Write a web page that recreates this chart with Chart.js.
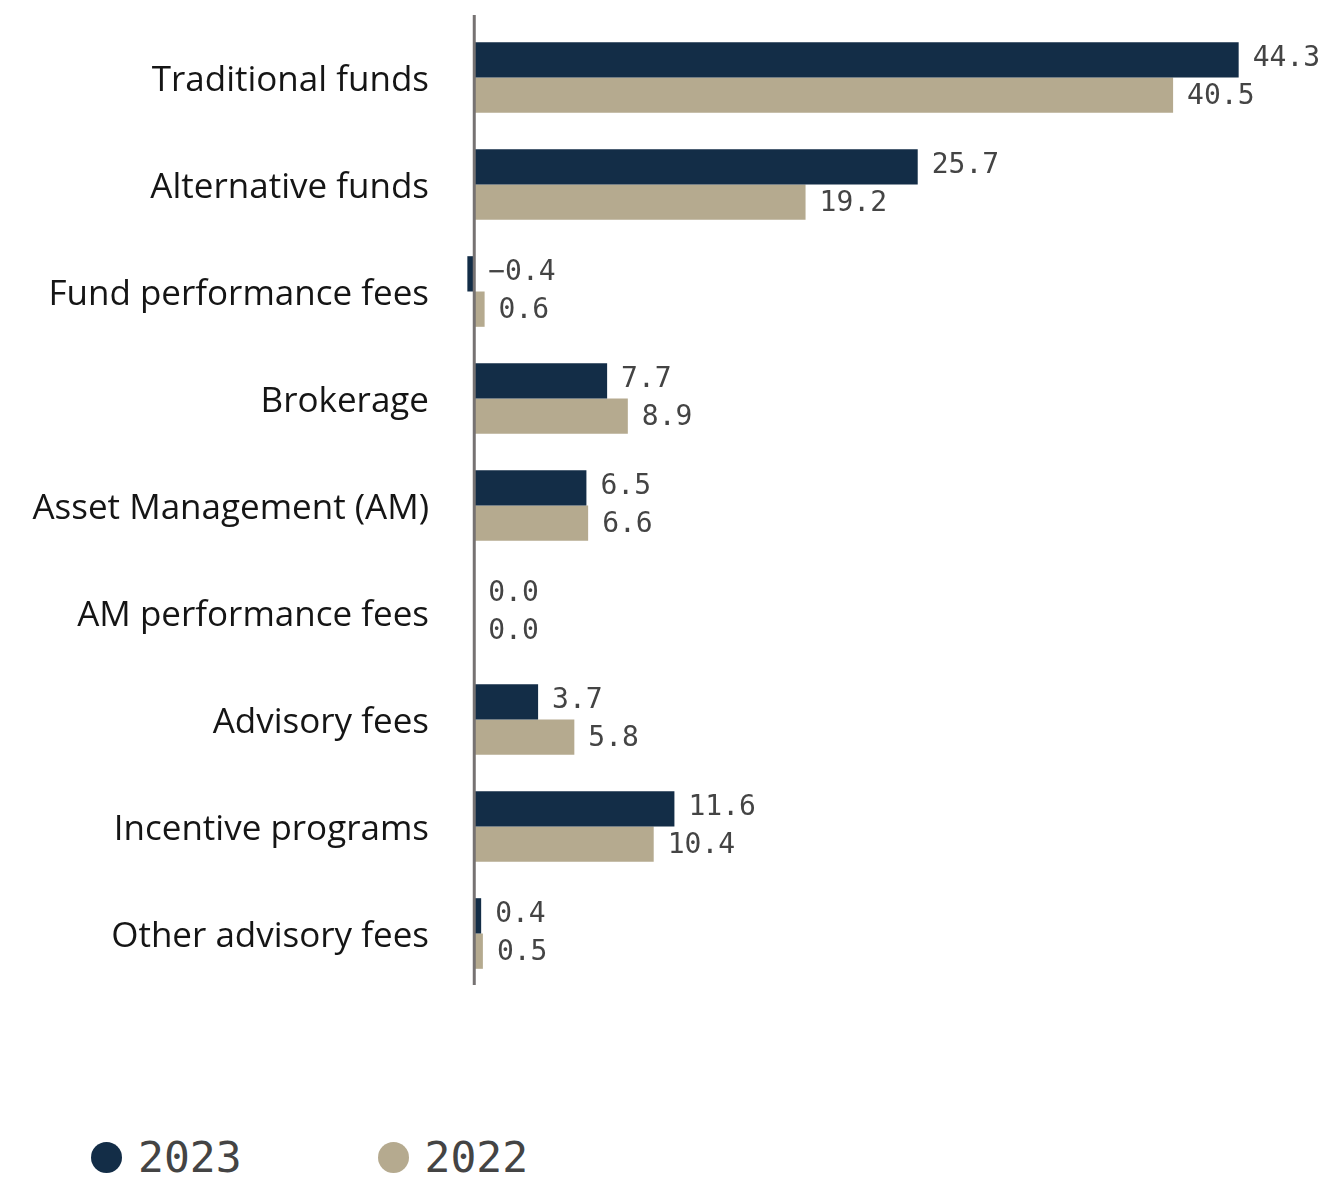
<!DOCTYPE html>
<html>
<head>
<meta charset="utf-8">
<script src="https://cdn.jsdelivr.net/npm/chart.js@4.4.1/dist/chart.umd.min.js"></script>
<style>
  body { margin: 0; background: #fff; }
  #wrap { position: relative; width: 1321px; height: 1178px; }
  #box { position: absolute; left: 0; top: 0; width: 1321px; height: 1000px; }
  #legend { position: absolute; left: 91px; top: 1132px; display: flex; font-family: 'DejaVu Sans Mono', monospace; font-size: 43px; color: #444; }
  .item { display: flex; align-items: center; margin-right: 136px; }
  .dot { width: 31px; height: 31px; border-radius: 50%; margin-right: 16px; }
</style>
</head>
<body>
<div id="wrap">
  <div id="box"><canvas id="c"></canvas></div>
  <div id="legend"></div>
</div>
<script>
/* Fee income by category, 2023 vs 2022 */

const NAVY = '#132d47';
const SAND = '#b5aa8f';

const categories = [
  'Traditional funds', 'Alternative funds', 'Fund performance fees', 'Brokerage',
  'Asset Management (AM)', 'AM performance fees', 'Advisory fees',
  'Incentive programs', 'Other advisory fees',
];
const values2023 = [44.3, 25.7, -0.4, 7.7, 6.5, 0.0, 3.7, 11.6, 0.4];
const values2022 = [40.5, 19.2, 0.6, 8.9, 6.6, 0.0, 5.8, 10.4, 0.5];
const seriesLabels = ['2023', '2022'];

const fmt = (v) => (v < 0 ? '\u2212' : '') + Math.abs(v).toFixed(1);

// value labels right of each bar (or right of zero for negatives)
const valueLabels = {
  id: 'valueLabels',
  afterDatasetsDraw(chart) {
    const { ctx } = chart;
    const x = chart.scales.x;
    ctx.save();
    ctx.font = '28px "DejaVu Sans Mono", monospace';
    ctx.fillStyle = '#444';
    ctx.textBaseline = 'middle';
    ctx.textAlign = 'left';
    chart.data.datasets.forEach((ds, i) => {
      chart.getDatasetMeta(i).data.forEach((bar, j) => {
        const v = ds.data[j];
        const px = x.getPixelForValue(Math.max(v, 0));
        ctx.fillText(fmt(v), px + 14, bar.y + (i === 0 ? -1 : 2));
      });
    });
    ctx.restore();
  },
};

// vertical zero line
const zeroLine = {
  id: 'zeroLine',
  afterDatasetsDraw(chart) {
    const { ctx, chartArea } = chart;
    const px = chart.scales.x.getPixelForValue(0);
    ctx.save();
    ctx.strokeStyle = '#767272';
    ctx.lineWidth = 3;
    ctx.beginPath();
    ctx.moveTo(px, chartArea.top - 9);
    ctx.lineTo(px, chartArea.bottom - 2);
    ctx.stroke();
    ctx.restore();
  },
};

const chart = new Chart(document.getElementById('c'), {
  type: 'bar',
  data: {
    labels: categories,
    datasets: [
      { label: seriesLabels[0], data: values2023, backgroundColor: NAVY },
      { label: seriesLabels[1], data: values2022, backgroundColor: SAND },
    ],
  },
  options: {
    indexAxis: 'y',
    responsive: true,
    maintainAspectRatio: false,
    animation: false,
    layout: { padding: { top: 24, right: 53, bottom: 13, left: 0 } },
    datasets: { bar: { categoryPercentage: 0.66, barPercentage: 1 } },
    plugins: { legend: { display: false }, tooltip: { enabled: false } },
    scales: {
      x: {
        min: -1,
        max: 46,
        display: false,
      },
      y: {
        afterFit: (s) => { s.width = 457; s.paddingTop = 0; s.paddingBottom = 0; },
        grid: { display: false },
        border: { display: false },
        ticks: {
          color: '#151515',
          padding: 20,
          labelOffset: 4,
          font: { family: 'Open Sans', size: 35 },
        },
      },
    },
  },
  plugins: [valueLabels, zeroLine],
});

const legend = document.getElementById('legend');
chart.data.datasets.forEach((ds) => {
  const item = document.createElement('div');
  item.className = 'item';
  item.innerHTML = `<span class="dot" style="background:${ds.backgroundColor}"></span><span>${ds.label}</span>`;
  legend.appendChild(item);
});
</script>
</body>
</html>
